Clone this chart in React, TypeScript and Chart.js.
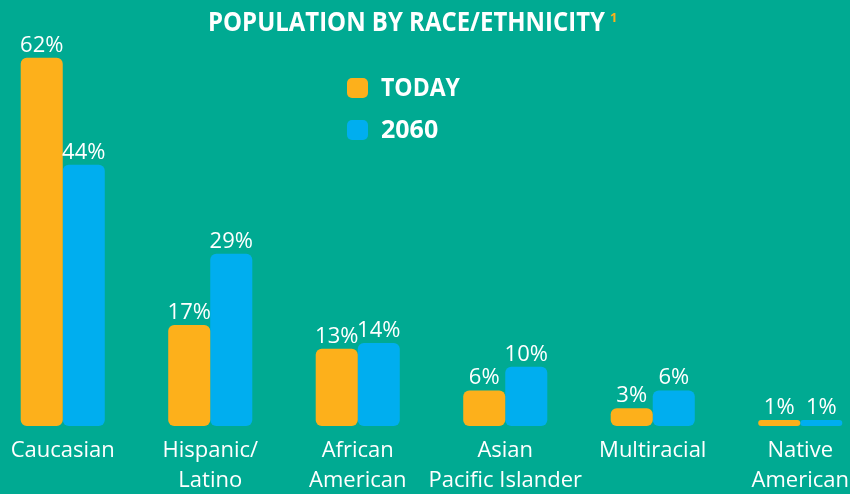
import React, { useEffect, useRef } from "react";
import { Chart, registerables } from "chart.js";

Chart.register(...registerables);

const categories: string[][] = [
  ["Caucasian"],
  ["Hispanic/", "Latino"],
  ["African", "American"],
  ["Asian", "Pacific Islander"],
  ["Multiracial"],
  ["Native", "American"],
];
const todayValues = [62, 17, 13, 6, 3, 1];
const futureValues = [44, 29, 14, 10, 6, 1];
const seriesNames = ["TODAY", "2060"];
const titleText = "POPULATION BY RACE/ETHNICITY";
const footnote = "1";

const BG = "#00AA92";
const ORANGE = "#FDB01B";
const BLUE = "#00AEEF";
const SHIFT = 11; // canvas is placed 11px left of the page edge

const overlayPlugin = {
  id: "overlay",
  afterDatasetsDraw(chart: any) {
    const ctx = chart.ctx;
    ctx.save();
    ctx.fillStyle = "#ffffff";
    ctx.font = "400 22px 'Open Sans'";
    ctx.textAlign = "center";
    ctx.textBaseline = "alphabetic";
    chart.data.datasets.forEach((ds: any, di: number) => {
      const meta = chart.getDatasetMeta(di);
      meta.data.forEach((bar: any, i: number) => {
        ctx.fillText(ds.data[i] + "%", bar.x, bar.y - 6);
      });
    });
    ctx.translate(SHIFT, 0);
    ctx.textAlign = "left";
    ctx.font = "700 27px 'Open Sans'";
    ctx.fillText(titleText, 208, 31, 397);
    ctx.fillStyle = ORANGE;
    ctx.font = "700 13px 'Open Sans'";
    ctx.fillText(footnote, 610, 22);
    chart.data.datasets.forEach((ds: any, i: number) => {
      const y = 78 + i * 42;
      ctx.fillStyle = ds.backgroundColor;
      ctx.beginPath();
      (ctx as any).roundRect(347, y, 21, 20, 5);
      ctx.fill();
      ctx.fillStyle = "#ffffff";
      ctx.font = "700 25px 'Open Sans'";
      ctx.textBaseline = "middle";
      const w = ds.label === "TODAY" ? 79 : 62;
      ctx.fillText(ds.label, 381, y + 11, w);
    });
    ctx.restore();
  },
};

export default function App() {
  const ref = useRef<HTMLCanvasElement>(null);
  useEffect(() => {
    const chart = new Chart(ref.current!, {
      type: "bar",
      data: {
        labels: categories,
        datasets: [
          {
            label: seriesNames[0],
            data: todayValues,
            backgroundColor: ORANGE,
            borderRadius: 6,
            borderSkipped: false,
            clip: false as any,
          },
          {
            label: seriesNames[1],
            data: futureValues,
            backgroundColor: BLUE,
            borderRadius: 6,
            borderSkipped: false,
            clip: false as any,
          },
        ],
      },
      options: {
        animation: false,
        responsive: false,
        layout: { padding: { left: 0, right: 0, top: 40, bottom: -11 } },
        plugins: { legend: { display: false }, tooltip: { enabled: false } },
        datasets: { bar: { categoryPercentage: 0.57, barPercentage: 1 } },
        scales: {
          x: {
            offset: true,
            grid: { display: false, drawTicks: false },
            border: { display: false },
            ticks: {
              color: "#ffffff",
              font: { family: "'Open Sans'", size: 22, lineHeight: 1.34 },
              padding: 10,
              maxRotation: 0,
              minRotation: 0,
              autoSkip: false,
            },
          },
          y: {
            display: false,
            min: 0,
            max: 65,
          },
        },
      },
      plugins: [overlayPlugin],
    });
    return () => chart.destroy();
  }, []);
  return (
    <div
      style={{
        position: "absolute",
        left: 0,
        top: 0,
        width: 850,
        height: 494,
        background: BG,
        overflow: "hidden",
      }}
    >
      <canvas
        ref={ref}
        width={885}
        height={494}
        style={{ position: "absolute", left: -SHIFT, top: 0 }}
      />
    </div>
  );
}
